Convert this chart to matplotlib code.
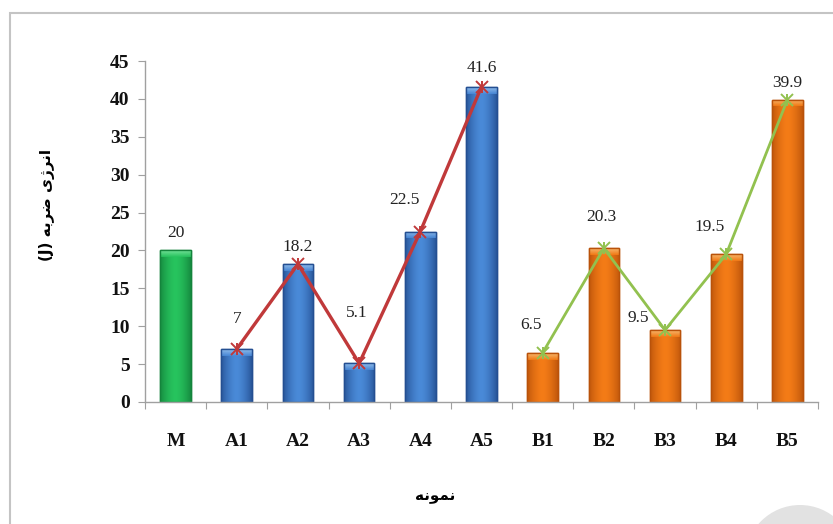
import numpy as np
import matplotlib
matplotlib.use('Agg')
import matplotlib.pyplot as plt
from matplotlib.colors import LinearSegmentedColormap
from matplotlib.patches import Rectangle, Wedge

# sample names and impact energy (J)
samples = ['M', 'A1', 'A2', 'A3', 'A4', 'A5', 'B1', 'B2', 'B3', 'B4', 'B5']
energy = [20, 7, 18.2, 5.1, 22.5, 41.6, 6.5, 20.3, 9.5, 19.5, 39.9]
groups = ['M', 'A', 'A', 'A', 'A', 'A', 'B', 'B', 'B', 'B', 'B']

# label offsets in pixels (dx, dy) from the bar top
lab_off = [(0, 17), (0, 30), (0, 17), (-2, 50), (-16, 31), (0, 19),
           (-12, 28), (-2, 31), (-27, 12), (-17, 27), (0, 17)]

# (edge, centre, top highlight)
colors = {
    'M': ('#14843c', '#27c45e', '#7fe8a2'),
    'A': ('#244f92', '#4a8ad8', '#9cc6f2'),
    'B': ('#b9520a', '#f47c17', '#fbc27a'),
}

serif = ['Liberation Serif', 'DejaVu Serif']

fig = plt.figure(figsize=(8.33, 5.24), dpi=100)
ax = fig.add_axes([145 / 833, 1 - 402 / 524, (818 - 145) / 833, (402 - 61) / 524])

x = np.arange(len(samples))
w = 0.5
grad = np.abs(np.linspace(-1, 1, 64)) ** 1.6
grad = grad[np.newaxis, :]

for i, (v, g) in enumerate(zip(energy, groups)):
    edge, mid, hi = colors[g]
    bar = Rectangle((i - w / 2, 0), w, v, facecolor=mid, edgecolor=edge, lw=1.0, zorder=2)
    ax.add_patch(bar)
    cmap = LinearSegmentedColormap.from_list('c' + g, [mid, edge])
    im = ax.imshow(grad, extent=[i - w / 2, i + w / 2, 0, v], aspect='auto',
                   cmap=cmap, vmin=0, vmax=1.15, zorder=2.1)
    im.set_clip_path(bar)
    # bevel on the top of the bar
    cap_h = 0.9
    cap = np.linspace(1, 0, 16)[:, np.newaxis] * np.ones((1, 64))
    capmap = LinearSegmentedColormap.from_list('h' + g, [mid, hi])
    im2 = ax.imshow(cap, extent=[i - w / 2, i + w / 2, v - cap_h, v], aspect='auto',
                    cmap=capmap, vmin=0, vmax=1, zorder=2.2, alpha=0.9)
    im2.set_clip_path(bar)
    ax.add_patch(Rectangle((i - w / 2, 0), w, v, fill=False, edgecolor=edge, lw=1.0, zorder=2.3))

# trend lines over each group
ia = [i for i, g in enumerate(groups) if g == 'A']
ib = [i for i, g in enumerate(groups) if g == 'B']
for idx, c, lw in [(ia, '#c0393a', 2.4), (ib, '#92c14f', 2.0)]:
    yv = [energy[i] for i in idx]
    ax.plot(idx, yv, color=c, lw=lw, zorder=3, solid_capstyle='round')
    ax.plot(idx, yv, ls='none', marker='x', ms=8, mew=1.4, color=c, zorder=3)
    ax.plot(idx, yv, ls='none', marker='|', ms=9, mew=1.4, color=c, zorder=3)

for i, v in enumerate(energy):
    dx, dy = lab_off[i]
    ax.annotate(f'{v:g}', (i, v), xytext=(dx, dy), textcoords='offset pixels',
                ha='center', va='center', fontsize=12.5, family=serif, color='#222222', zorder=4)

ax.set_xlim(-0.5, len(samples) - 0.5)
ax.set_ylim(0, 45)
ax.set_yticks(np.arange(0, 46, 5))
ax.set_xticks(np.arange(-0.5, len(samples)), minor=False)
ax.set_xticklabels([])
ax.set_xticks(x, minor=True)
ax.set_xticklabels(samples, minor=True)
ax.tick_params(axis='x', which='minor', length=0, pad=22)
ax.tick_params(axis='x', which='major', length=5, color='#a0a0a0', direction='out')
ax.tick_params(axis='y', length=5, color='#a0a0a0', direction='out', pad=6)
for lab in ax.get_yticklabels() + ax.get_xticklabels(minor=True):
    lab.set_fontfamily(serif)
    lab.set_fontweight('bold')
    lab.set_fontsize(14)
    lab.set_color('#111111')
for s in ['top', 'right']:
    ax.spines[s].set_visible(False)
for s in ['left', 'bottom']:
    ax.spines[s].set_color('#a0a0a0')
    ax.spines[s].set_linewidth(1.0)

# axis titles (Persian, pre-shaped in visual order)
fig.text(47 / 833, 1 - 205 / 524, '(J) \ufeea\ufe91\ufeae\ufebf \ufbfc\ufb8a\ufeae\ufee7\ufe8d',
         rotation=90, ha='center', va='center', fontsize=11, fontweight='bold',
         family=['DejaVu Sans'])
fig.text(435 / 833, 1 - 497 / 524, '\ufeea\ufee7\ufeee\ufee4\ufee7',
         ha='center', va='center', fontsize=11, fontweight='bold', family=['DejaVu Sans'])

# outer frame
fig.add_artist(Rectangle((10 / 833, -0.1), 1.2, 1.1 - 13 / 524, transform=fig.transFigure,
                         fill=False, ec='#c4c4c4', lw=1.5))
# grey ring in the lower right corner (display pixels, origin bottom-left)
ring = Wedge((800, -36), 55, 0, 360, width=22, fc='#e2e2e2', ec='none',
             transform=None)
fig.add_artist(ring)

fig.savefig('out.png', dpi=100)
